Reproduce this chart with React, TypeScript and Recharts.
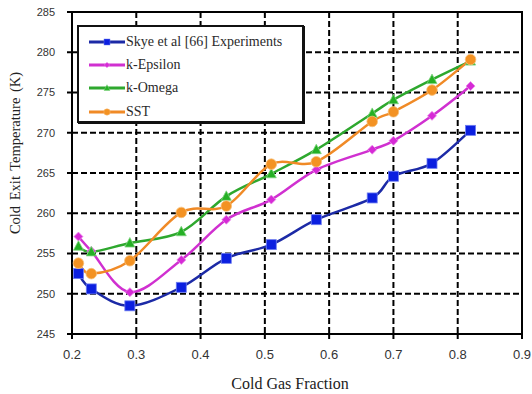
import React from "react";
import {
  LineChart,
  Line,
  XAxis,
  YAxis,
  CartesianGrid,
  ReferenceArea,
  Legend,
  Customized,
} from "recharts";

// Cold gas fraction at each measured / simulated operating point
const coldFraction = [0.21, 0.23, 0.29, 0.37, 0.44, 0.51, 0.58, 0.667, 0.7, 0.76, 0.82];

// Cold exit temperature (K) for each data set
const experiments = [252.5, 250.6, 248.5, 250.8, 254.4, 256.1, 259.2, 261.9, 264.6, 266.2, 270.3];
const kEpsilon = [257.1, 255.3, 250.2, 254.2, 259.2, 261.7, 265.4, 267.9, 269.0, 272.1, 275.8];
const kOmega = [255.9, 255.2, 256.3, 257.7, 262.1, 264.9, 267.9, 272.4, 274.1, 276.6, 278.9];
const sst = [253.8, 252.5, 254.1, 260.1, 260.9, 266.1, 266.4, 271.4, 272.6, 275.3, 279.1];

const xTicks = [0.2, 0.3, 0.4, 0.5, 0.6, 0.7, 0.8, 0.9];
const yTicks = [245, 250, 255, 260, 265, 270, 275, 280, 285];

const seriesNames = ["Skye et al [66] Experiments", "k-Epsilon", "k-Omega", "SST"];

const rows = coldFraction.map((x, i) => ({
  x,
  exp: experiments[i],
  ke: kEpsilon[i],
  kw: kOmega[i],
  sst: sst[i],
}));

const COLORS = {
  exp: { line: "#1c2aa6", mark: "#0b1fe0" },
  ke: { line: "#d030d0", mark: "#d62ad6" },
  kw: { line: "#2ea82e", mark: "#25b025" },
  sst: { line: "#f08a26", mark: "#f39223" },
};

// Smooth curve through the points (Bezier with control points at 1/6 of neighbour spread)
const smoothCurve: any = (context: any) => {
  let pts: number[][] = [];
  return {
    areaStart() {},
    areaEnd() {},
    lineStart() {
      pts = [];
    },
    point(x: number, y: number) {
      pts.push([+x, +y]);
    },
    lineEnd() {
      if (!pts.length) return;
      context.moveTo(pts[0][0], pts[0][1]);
      for (let i = 0; i < pts.length - 1; i++) {
        const p0 = pts[i - 1] || pts[i];
        const p1 = pts[i];
        const p2 = pts[i + 1];
        const p3 = pts[i + 2] || p2;
        const c1x = p1[0] + (p2[0] - p0[0]) / 6;
        const c1y = p1[1] + (p2[1] - p0[1]) / 6;
        const c2x = p2[0] - (p3[0] - p1[0]) / 6;
        const c2y = p2[1] - (p3[1] - p1[1]) / 6;
        context.bezierCurveTo(c1x, c1y, c2x, c2y, p2[0], p2[1]);
      }
    },
  };
};

type Shape = "square" | "diamond" | "triangle" | "circle";

const Marker = ({ cx, cy, shape, color }: { cx: number; cy: number; shape: Shape; color: string }) => {
  if (shape === "square") {
    return <rect x={cx - 5} y={cy - 5} width={10} height={10} fill={color} stroke="#6d7cf0" strokeWidth={0.8} />;
  }
  if (shape === "diamond") {
    return (
      <polygon
        points={`${cx},${cy - 4.5} ${cx + 4.5},${cy} ${cx},${cy + 4.5} ${cx - 4.5},${cy}`}
        fill={color}
        stroke="#ea8aea"
        strokeWidth={0.8}
      />
    );
  }
  if (shape === "triangle") {
    return (
      <polygon
        points={`${cx},${cy - 5.5} ${cx + 5},${cy + 4} ${cx - 5},${cy + 4}`}
        fill={color}
        stroke="#7fd47f"
        strokeWidth={0.8}
      />
    );
  }
  return <circle cx={cx} cy={cy} r={5.3} fill={color} stroke="#f8c07a" strokeWidth={0.8} />;
};

const dotFor = (shape: Shape, color: string) => (props: any) => {
  const { cx, cy, index } = props;
  if (cx == null || cy == null) return <g key={`${shape}-${index}`} />;
  return (
    <g key={`${shape}-${index}`}>
      <Marker cx={cx} cy={cy} shape={shape} color={color} />
    </g>
  );
};

const legendItems: { name: string; shape: Shape; key: keyof typeof COLORS }[] = [
  { name: seriesNames[0], shape: "square", key: "exp" },
  { name: seriesNames[1], shape: "diamond", key: "ke" },
  { name: seriesNames[2], shape: "triangle", key: "kw" },
  { name: seriesNames[3], shape: "circle", key: "sst" },
];

const LegendBox = () => (
  <div
    style={{
      width: 223,
      height: 91,
      border: "2px solid #111",
      boxShadow: "1px 1px 0 #111",
      background: "#fff",
      paddingTop: 3,
      boxSizing: "content-box",
    }}
  >
    {legendItems.map((it) => (
      <div key={it.key} style={{ display: "flex", alignItems: "center", height: 23.3 }}>
        <svg width={48} height={14} style={{ marginLeft: 8, flex: "none" }}>
          <line x1={2} y1={7} x2={38} y2={7} stroke={COLORS[it.key].line} strokeWidth={3} />
          <g transform="translate(20,7) scale(0.6) translate(-20,-7)">
            <Marker cx={20} cy={7} shape={it.shape} color={COLORS[it.key].mark} />
          </g>
        </svg>
        <span
          style={{
            marginLeft: -9,
            fontFamily: "'Liberation Serif', 'Times New Roman', serif",
            fontSize: 14,
            color: "#2a2a2a",
            whiteSpace: "nowrap",
          }}
        >
          {it.name}
        </span>
      </div>
    ))}
  </div>
);

const AxisTitles = () => (
  <g>
    <text
      x={290}
      y={389}
      textAnchor="middle"
      fontFamily="'Liberation Serif', 'Times New Roman', serif"
      fontSize={16}
      fill="#222"
    >
      Cold Gas Fraction
    </text>
    <text
      transform="translate(20,153) rotate(-90)"
      textAnchor="middle"
      fontFamily="'Liberation Serif', 'Times New Roman', serif"
      fontSize={14.5}
      wordSpacing={2}
      fill="#222"
    >
      Cold Exit Temperature (K)
    </text>
  </g>
);

const tickFont = { fontFamily: "'Liberation Sans', Arial, sans-serif", fill: "#333" };

export default function App() {
  return (
    <div style={{ position: "absolute", left: 0, top: 0, background: "#fff" }}>
      <LineChart width={532} height={394} data={rows} margin={{ top: 12, right: 10, left: 0, bottom: 0 }}>
        <CartesianGrid stroke="#000" strokeWidth={2} strokeDasharray="6 3" />
        <XAxis
          dataKey="x"
          type="number"
          domain={[0.2, 0.9]}
          ticks={xTicks}
          interval={0}
          tickFormatter={(v: number) => v.toFixed(1)}
          height={60}
          stroke="#000"
          strokeWidth={2}
          tickSize={5}
          tickMargin={11}
          tick={{ ...tickFont, fontSize: 13 }}
        />
        <YAxis
          type="number"
          domain={[245, 285]}
          ticks={yTicks}
          interval={0}
          width={72}
          stroke="#000"
          strokeWidth={2}
          tickSize={5}
          tickMargin={12}
          tick={{ ...tickFont, fontSize: 11 }}
        />
        <ReferenceArea x1={0.2} x2={0.9} y1={245} y2={285} fill="none" stroke="#000" strokeWidth={2} ifOverflow="visible" />
        <Line
          dataKey="exp"
          name={seriesNames[0]}
          type={smoothCurve}
          stroke={COLORS.exp.line}
          strokeWidth={2.5}
          dot={dotFor("square", COLORS.exp.mark)}
          isAnimationActive={false}
        />
        <Line
          dataKey="ke"
          name={seriesNames[1]}
          type={smoothCurve}
          stroke={COLORS.ke.line}
          strokeWidth={2.5}
          dot={dotFor("diamond", COLORS.ke.mark)}
          isAnimationActive={false}
        />
        <Line
          dataKey="kw"
          name={seriesNames[2]}
          type={smoothCurve}
          stroke={COLORS.kw.line}
          strokeWidth={2.5}
          dot={dotFor("triangle", COLORS.kw.mark)}
          isAnimationActive={false}
        />
        <Line
          dataKey="sst"
          name={seriesNames[3]}
          type={smoothCurve}
          stroke={COLORS.sst.line}
          strokeWidth={2.5}
          dot={dotFor("circle", COLORS.sst.mark)}
          isAnimationActive={false}
        />
        <Legend
          layout="horizontal"
          verticalAlign="middle"
          align="center"
          content={() => <LegendBox />}
          wrapperStyle={{ position: "absolute", left: 77, top: 25, width: "auto", height: "auto" }}
        />
        <Customized component={AxisTitles} />
      </LineChart>
    </div>
  );
}
